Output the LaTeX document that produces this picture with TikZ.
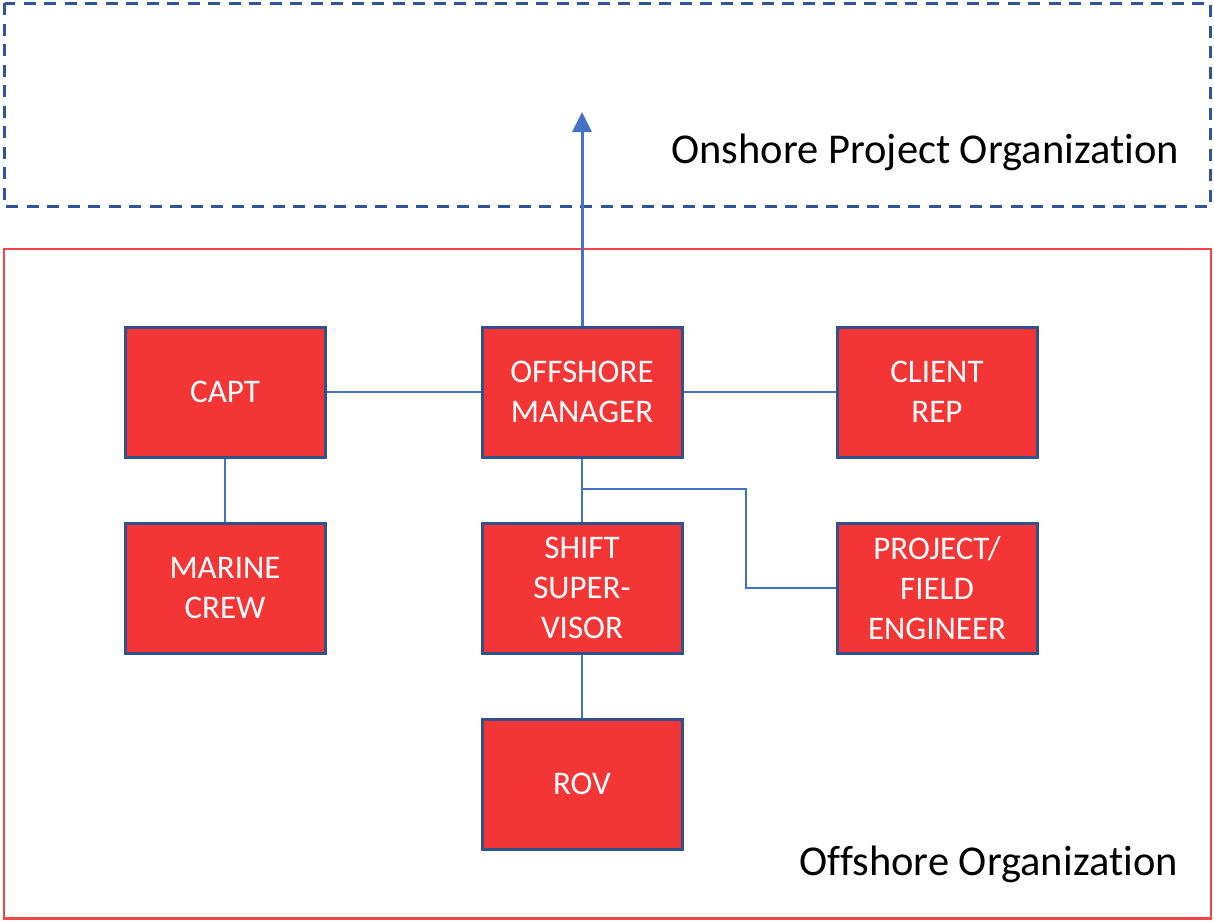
\documentclass[tikz,border=0pt]{standalone}
\usepackage{fontspec}
\setmainfont{Carlito}[Ligatures=NoCommon]
\usetikzlibrary{arrows.meta}
\definecolor{boxred}{HTML}{F33535}
\definecolor{boxedge}{HTML}{2F528F}
\definecolor{linkblue}{HTML}{4472C4}
\definecolor{onshore}{HTML}{2F5597}
\definecolor{offshore}{HTML}{F04545}
\tikzset{
  role/.style={draw=boxedge, fill=boxred, line width=3pt, minimum width=200pt,
    minimum height=130pt, inner sep=0pt, text=white, align=center,
    font=\fontsize{33}{40}\selectfont},
  link/.style={draw=linkblue, line width=1.6pt},
  report/.style={draw=linkblue, line width=3pt, -{Triangle[length=20pt,width=19pt]}},
  caption/.style={inner sep=0pt, text=black, font=\fontsize{42.5}{48}\selectfont},
}
\begin{document}
\begin{tikzpicture}[x=1pt, y=-1pt]
  \useasboundingbox (0,0) rectangle (1214,921);
  % group frames
  \draw[onshore, line width=3pt, dash pattern=on 12pt off 8.5pt] (4.5,3) rectangle (1210.5,206.5);
  \draw[offshore, line width=2.2pt] (4,249) rectangle (1211,918.5);
  \node[caption, anchor=base east] (onlbl) at (1179,163) {Onshore Project Organization};
  \node[caption, anchor=base east] (offlbl) at (1178,875) {Offshore Organization};
  % roles
  \node[role] (capt) at (225,392) {CAPT};
  \node[role] (om) at (582,392) {OFFSHORE\\MANAGER};
  \node[role] (client) at (937,392) {CLIENT\\REP};
  \node[role] (marine) at (225,588) {MARINE\\CREW};
  \node[role] (shift) at (582,588) {SHIFT\\SUPER-\\VISOR};
  \node[role] (pfe) at (937,588) {PROJECT/\\FIELD\\ENGINEER};
  \node[role] (rov) at (582,784) {ROV};
  \coordinate (onshore) at (582,112);
  \coordinate (split) at (582,489);
  % reporting lines
  \draw[link] (capt) -- (om);
  \draw[link] (om) -- (client);
  \draw[link] (capt) -- (marine);
  \draw[link] (om) -- (shift);
  \draw[link] (split) -| (746,588) -- (pfe.west);
  \draw[link] (shift) -- (rov);
  \draw[report] (om.north) -- (onshore);
\end{tikzpicture}
\end{document}
